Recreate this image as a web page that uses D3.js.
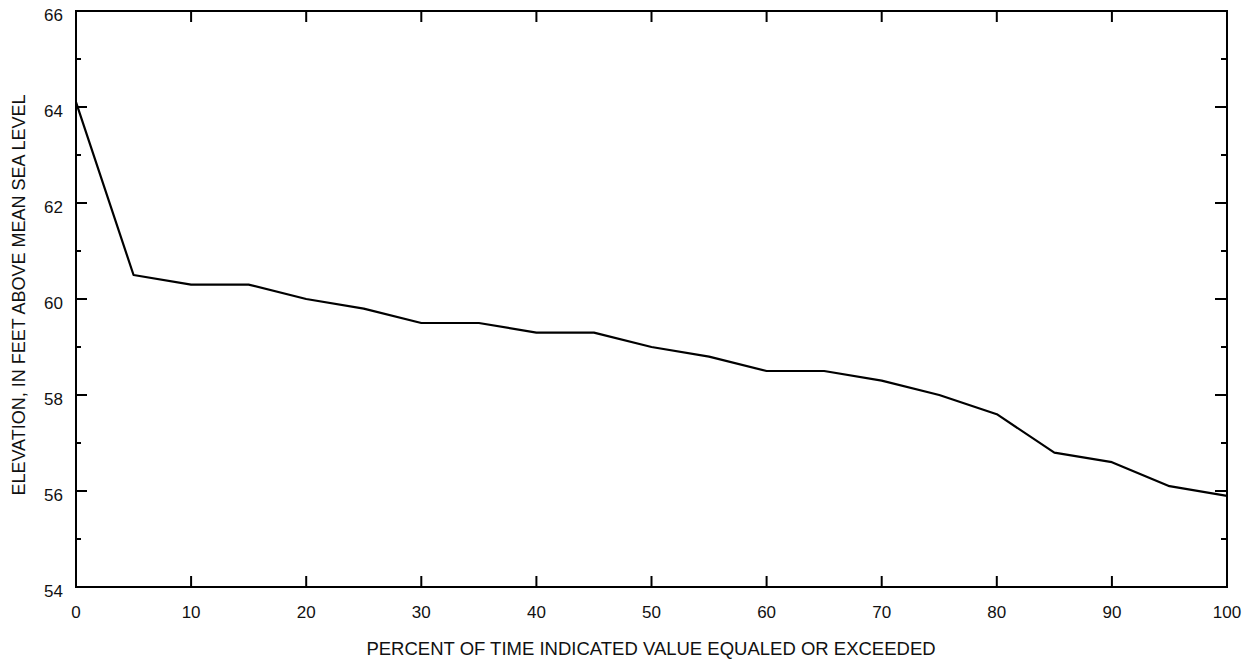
<!DOCTYPE html>
<html>
<head>
<meta charset="utf-8">
<script src="https://cdn.jsdelivr.net/npm/d3@7"></script>
<style>
  body { margin: 0; background: #fff; }
  text { font-family: "Liberation Sans", Arial, sans-serif; fill: #111; }
</style>
</head>
<body>
<div id="chart"></div>
<script>
// duration curve values
const percent = [0, 5, 10, 15, 20, 25, 30, 35, 40, 45, 50, 55, 60, 65, 70, 75, 80, 85, 90, 95, 100];
const elevation = [64.1, 60.5, 60.3, 60.3, 60.0, 59.8, 59.5, 59.5, 59.3, 59.3, 59.0, 58.8, 58.5, 58.5, 58.3, 58.0, 57.6, 56.8, 56.6, 56.1, 55.9];
const xTicks = [0, 10, 20, 30, 40, 50, 60, 70, 80, 90, 100];
const yTicks = [54, 56, 58, 60, 62, 64, 66];
const yMinor = [55, 57, 59, 61, 63, 65];

const W = 1259, H = 660;
const margin = {top: 11, right: 32, bottom: 73, left: 76};

const svg = d3.select("#chart").append("svg")
    .attr("width", W).attr("height", H);

const x = d3.scaleLinear().domain([0, 100]).range([margin.left, W - margin.right]);
const y = d3.scaleLinear().domain([54, 66]).range([H - margin.bottom, margin.top]);

const g = svg.append("g");

// frame
g.append("rect")
    .attr("x", x(0)).attr("y", y(66))
    .attr("width", x(100) - x(0)).attr("height", y(54) - y(66))
    .attr("fill", "none").attr("stroke", "#000").attr("stroke-width", 2);

// x ticks, inward on bottom and top
xTicks.forEach(v => {
    if (v === 0 || v === 100) return;
    g.append("line").attr("x1", x(v)).attr("x2", x(v))
        .attr("y1", y(54)).attr("y2", y(54) - 11)
        .attr("stroke", "#000").attr("stroke-width", 2);
    g.append("line").attr("x1", x(v)).attr("x2", x(v))
        .attr("y1", y(66)).attr("y2", y(66) + 11)
        .attr("stroke", "#000").attr("stroke-width", 2);
});
g.selectAll(".xlab").data(xTicks).join("text")
    .attr("x", d => x(d)).attr("y", 618)
    .attr("text-anchor", "middle").attr("font-size", 17)
    .text(d => d);

// y ticks
yTicks.concat(yMinor).forEach(v => {
    if (v === 54 || v === 66) return;
    const len = yMinor.includes(v) ? 5 : 11;
    g.append("line").attr("x1", x(0)).attr("x2", x(0) + len)
        .attr("y1", y(v)).attr("y2", y(v))
        .attr("stroke", "#000").attr("stroke-width", 2);
    g.append("line").attr("x1", x(100)).attr("x2", x(100) - len - 1)
        .attr("y1", y(v)).attr("y2", y(v))
        .attr("stroke", "#000").attr("stroke-width", 2);
});
g.selectAll(".ylab").data(yTicks).join("text")
    .attr("x", 63).attr("y", d => y(d) + 10)
    .attr("text-anchor", "end").attr("font-size", 17)
    .text(d => d);

// the curve
const line = d3.line().x((d, i) => x(percent[i])).y(d => y(d));
g.append("path").datum(elevation)
    .attr("d", line)
    .attr("fill", "none").attr("stroke", "#000").attr("stroke-width", 2.2)
    .attr("stroke-linejoin", "round");

// axis titles
svg.append("text")
    .attr("x", 651).attr("y", 655)
    .attr("text-anchor", "middle").attr("font-size", 18.5)
    .text("PERCENT OF TIME INDICATED VALUE EQUALED OR EXCEEDED");

svg.append("text")
    .attr("transform", "translate(25,295) rotate(-90)")
    .attr("text-anchor", "middle").attr("font-size", 18)
    .text("ELEVATION, IN FEET ABOVE MEAN SEA LEVEL");
</script>
</body>
</html>
